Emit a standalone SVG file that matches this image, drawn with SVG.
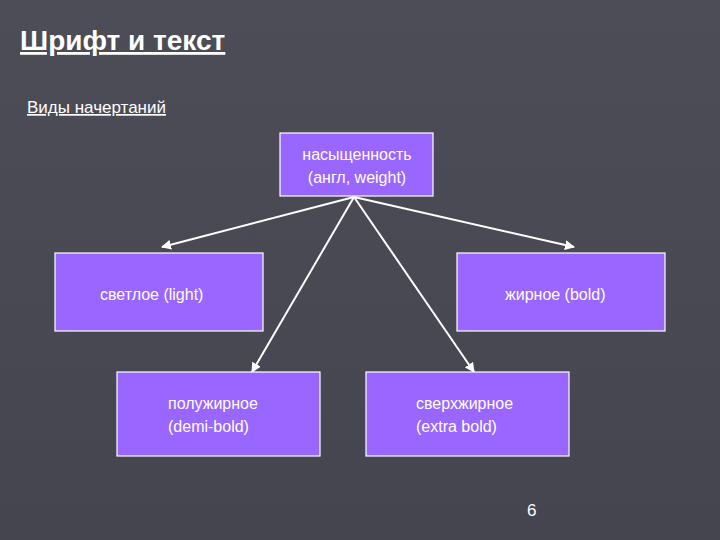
<svg xmlns="http://www.w3.org/2000/svg" width="720" height="540" viewBox="0 0 720 540">
<defs>
<style>
.t{font-family:"Liberation Sans",Arial,sans-serif;fill:#fff}
.n{font-family:"Liberation Sans",Arial,sans-serif;fill:#fff;font-size:16px}
.b{fill:#9966ff;stroke:#fff;stroke-width:1.2}
.c{stroke:#fff;stroke-width:2;fill:none;marker-end:url(#a)}
</style>
<marker id="a" viewBox="0 0 10 10" refX="9" refY="5" markerWidth="5" markerHeight="5" orient="auto"><path d="M0,0L10,5L0,10z" fill="#fff"/></marker>
<linearGradient id="bg" x1="0" y1="0" x2="0" y2="1"><stop offset="0" stop-color="#4d4d57"/><stop offset="1" stop-color="#45454f"/></linearGradient>
</defs>
<rect width="720" height="540" fill="url(#bg)"/>
<text class="t" x="20" y="50" font-size="28" font-weight="bold" text-decoration="underline">Шрифт и текст</text>
<text class="t" x="27" y="113" font-size="17" text-decoration="underline">Виды начертаний</text>
<g id="connectors">
<line class="c" x1="354" y1="197" x2="162" y2="247"/>
<line class="c" x1="354" y1="197" x2="574" y2="247"/>
<line class="c" x1="354" y1="197" x2="252" y2="372"/>
<line class="c" x1="354" y1="197" x2="474" y2="372"/>
</g>
<g id="weight"><rect class="b" x="280" y="133" width="153" height="63"/>
<text class="n" x="357" y="160" text-anchor="middle">насыщенность</text>
<text class="n" x="357" y="183" text-anchor="middle">(англ, weight)</text></g>
<g id="light"><rect class="b" x="55" y="253" width="208" height="78"/>
<text class="n" x="100" y="300">светлое (light)</text></g>
<g id="bold"><rect class="b" x="457" y="253" width="208" height="78"/>
<text class="n" x="505" y="300">жирное (bold)</text></g>
<g id="demibold"><rect class="b" x="117" y="372" width="203" height="84"/>
<text class="n" x="168" y="409">полужирное</text>
<text class="n" x="168" y="432">(demi-bold)</text></g>
<g id="extrabold"><rect class="b" x="366" y="372" width="203" height="84"/>
<text class="n" x="416" y="409">сверхжирное</text>
<text class="n" x="416" y="432">(extra bold)</text></g>
<text class="t" x="527" y="516" font-size="17">6</text>
</svg>
